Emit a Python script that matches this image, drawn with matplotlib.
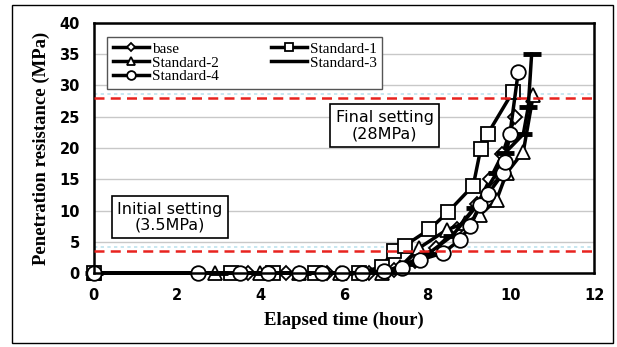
import matplotlib.pyplot as plt
from matplotlib.lines import Line2D
from matplotlib.patches import Rectangle

# elapsed time (hour) / penetration resistance (MPa)
base_t = [0, 3.7, 4.6, 5.6, 6.6, 7.2, 7.7, 8.2, 8.7, 9.2, 9.5, 9.8, 10.1]
base_p = [0, 0, 0, 0, 0, 0.5, 2.0, 4.0, 7.0, 11.0, 15.0, 19.0, 25.0]

std1_t = [0, 3.3, 4.3, 5.3, 6.35, 6.9, 7.2, 7.46, 8.05, 8.5, 9.1, 9.28, 9.45, 10.05]
std1_p = [0, 0, 0, 0, 0, 1.0, 3.6, 4.4, 7.0, 9.8, 14.0, 19.9, 22.3, 29.0]

std2_t = [0, 2.9, 3.98, 4.93, 5.9, 6.9, 7.35, 7.8, 8.46, 8.9, 9.26, 9.66, 9.9, 10.3, 10.54]
std2_p = [0, 0, 0, 0, 0, 0, 1.0, 4.0, 6.9, 8.0, 9.3, 11.7, 16.0, 19.4, 28.5]

std3_t = [0, 3.0, 4.0, 5.0, 6.0, 7.0, 7.5, 8.0, 8.6, 9.14, 9.66, 9.86, 10.3, 10.42, 10.5]
std3_p = [0, 0, 0, 0, 0, 0.3, 1.5, 3.0, 6.0, 10.4, 16.0, 19.2, 22.2, 26.6, 35.0]

std4_t = [0, 2.5, 3.5, 4.17, 4.93, 5.48, 5.95, 6.43, 6.95, 7.4, 7.82, 8.37, 8.78,
          9.02, 9.26, 9.46, 9.82, 9.86, 9.98, 10.18]
std4_p = [0, 0, 0, 0, 0, 0, 0, 0, 0.3, 0.8, 2.1, 3.2, 5.3,
          7.5, 10.9, 12.7, 16.0, 17.8, 22.3, 32.2]

final_set = 28
initial_set = 3.5

fig = plt.figure(figsize=(6.17, 3.47), dpi=100)
ax = fig.add_axes([0.152, 0.213, 0.811, 0.721])

fig.patches.append(Rectangle((0.019, 0.012), 0.974, 0.974, transform=fig.transFigure,
                             fill=False, edgecolor='black', linewidth=1))

mk = dict(color='black', linewidth=2.5, markerfacecolor='white',
          markeredgecolor='black', markeredgewidth=1.3, clip_on=False)

h_base, = ax.plot(base_t, base_p, marker='D', markersize=7.5, label='base', **mk)
h_s1, = ax.plot(std1_t, std1_p, marker='s', markersize=9.5, label='Standard-1', **mk)
h_s2, = ax.plot(std2_t, std2_p, marker='^', markersize=10.5, label='Standard-2', **mk)
h_s3, = ax.plot(std3_t, std3_p, marker='_', markersize=13, label='Standard-3', **mk)
h_s4, = ax.plot(std4_t, std4_p, marker='o', markersize=10.5, label='Standard-4', **mk)
h_s3.set_markeredgewidth(3.5)

# setting thresholds
for v in (final_set, initial_set):
    ax.axhline(v + 0.6, color='#bfe3ee', linewidth=1.2, linestyle=(0, (2, 2)), zorder=1)
    ax.axhline(v, color='#e8231f', linewidth=1.8, linestyle=(0, (4, 2.5)), zorder=6)

box = dict(boxstyle='square,pad=0.35', facecolor='white', edgecolor='black', linewidth=1.2)
ax.text(6.98, 23.6, 'Final setting\n(28MPa)', ha='center', va='center',
        fontsize=11.5, linespacing=1.1, bbox=box, zorder=7)
ax.text(1.83, 8.95, 'Initial setting\n(3.5MPa)', ha='center', va='center',
        fontsize=11.5, linespacing=1.1, bbox=box, zorder=7)

# Standard-3 shows as a plain line in the legend
s3_key = Line2D([], [], color='black', linewidth=2.5)
leg = ax.legend([h_base, h_s2, h_s4, h_s1, s3_key],
                ['base', 'Standard-2', 'Standard-4', 'Standard-1', 'Standard-3'],
                ncol=2, loc='upper left', bbox_to_anchor=(0.012, 0.975),
                prop={'family': 'Liberation Serif', 'size': 11},
                markerscale=0.6, handlelength=2.4, handletextpad=0.15,
                columnspacing=3.4, labelspacing=0.0, borderpad=0.35,
                fancybox=False, framealpha=1)
leg.get_frame().set_edgecolor('#555555')
leg.get_frame().set_linewidth(1)
leg.set_zorder(8)

ax.set_xlim(0, 12)
ax.set_ylim(0, 40)
ax.set_xticks(range(0, 13, 2))
ax.set_yticks(range(0, 41, 5))
ax.yaxis.grid(True, color='#c8c8c8', linewidth=1)
ax.set_axisbelow(True)
ax.tick_params(axis='x', length=0, pad=11, labelsize=10.5)
ax.tick_params(axis='y', length=0, pad=10, labelsize=10.5)
for lab in ax.get_xticklabels() + ax.get_yticklabels():
    lab.set_fontweight('bold')
for s in ax.spines.values():
    s.set_linewidth(1.8)

ax.set_xlabel('Elapsed time (hour)', fontsize=13.5, fontweight='bold',
              family='Liberation Serif', labelpad=6)
ax.set_ylabel('Penetration resistance (MPa)', fontsize=13.5, fontweight='bold',
              family='Liberation Serif', labelpad=7)

plt.savefig('out.png', dpi=100)
